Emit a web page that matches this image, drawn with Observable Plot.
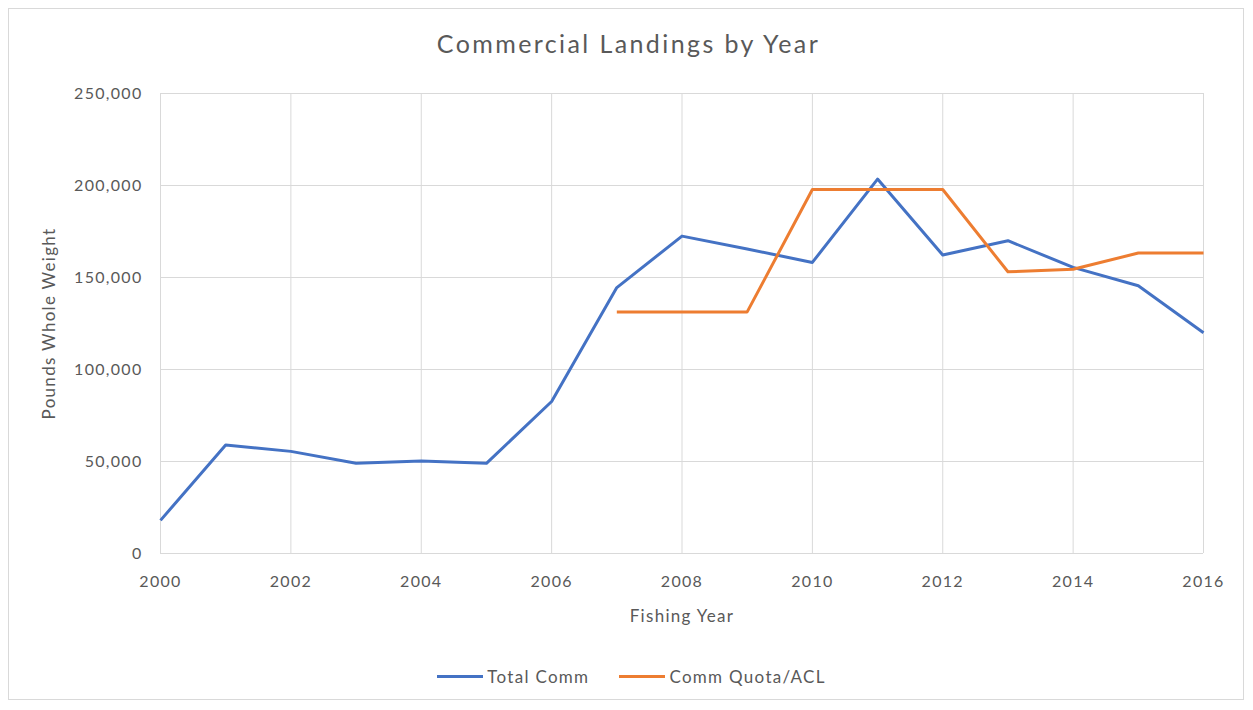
<!DOCTYPE html>
<html>
<head>
<meta charset="utf-8">
<script src="https://cdn.jsdelivr.net/npm/d3@7"></script>
<script src="https://cdn.jsdelivr.net/npm/@observablehq/plot@0.6"></script>
<style>
  body { margin: 0; background: #fff; font-family: Lato, "Open Sans", sans-serif; }
  #frame { position: absolute; left: 8px; top: 8px; width: 1236px; height: 692px; border: 1px solid #d9d9d9; box-sizing: border-box; }
  #wrap { position: absolute; left: 0; top: 0; width: 1253px; }
  #title { height: 80px; box-sizing: border-box; padding-top: 28px; padding-left: 4px; text-align: center; font-size: 25px; letter-spacing: 2.4px; color: #595959; }
  #legend { display: flex; justify-content: center; gap: 30px; font-size: 17px; letter-spacing: 1.3px; color: #595959; margin-top: 26px; margin-left: 10px; }
  .item { display: flex; align-items: center; gap: 4px; }
  .sw { width: 46px; height: 3px; }
  svg text { letter-spacing: 1.3px; }
</style>
</head>
<body>
<div id="frame"></div>
<div id="wrap">
  <div id="title">Commercial Landings by Year</div>
  <div id="chart"></div>
  <div id="legend"></div>
</div>
<script>
const years = [2000,2001,2002,2003,2004,2005,2006,2007,2008,2009,2010,2011,2012,2013,2014,2015,2016];
const totalComm = [18000,59000,55500,49000,50300,49000,82600,144500,172500,165500,158200,203500,162200,170000,155500,145500,120000];
const quotaYears = [2007,2008,2009,2010,2011,2012,2013,2014,2015,2016];
const quotaACL = [131300,131300,131300,197800,197800,197800,153100,154500,163300,163300];
const seriesNames = ["Total Comm", "Comm Quota/ACL"];
const seriesColors = ["#4472C4", "#ED7D31"];
const xTicks = [2000,2002,2004,2006,2008,2010,2012,2014,2016];
const yTicks = [0,50000,100000,150000,200000,250000];

const data = [
  ...years.map((y, i) => ({year: y, value: totalComm[i], series: seriesNames[0]})),
  ...quotaYears.map((y, i) => ({year: y, value: quotaACL[i], series: seriesNames[1]}))
];

const chart = Plot.plot({
  width: 1253,
  height: 560,
  marginLeft: 160,
  marginRight: 50,
  marginTop: 13,
  marginBottom: 87,
  style: { fontFamily: "Lato, 'Open Sans', sans-serif", fontSize: "16px", color: "#595959", background: "transparent" },
  x: { domain: [2000, 2016] },
  y: { domain: [0, 250000] },
  color: { domain: seriesNames, range: seriesColors },
  marks: [
    Plot.gridX(xTicks, { stroke: "#d9d9d9", strokeOpacity: 1, strokeWidth: 1 }),
    Plot.gridY(yTicks, { stroke: "#d9d9d9", strokeOpacity: 1, strokeWidth: 1 }),
    Plot.axisX(xTicks, { tickFormat: "d", tickSize: 0, tickPadding: 22, fontSize: 16, label: "Fishing Year", labelAnchor: "center", labelArrow: "none", labelOffset: 68 }),
    Plot.axisY(yTicks, { tickFormat: d => d === 0 ? "0" : d3.format(",")(d), tickSize: 0, tickPadding: 18, fontSize: 16, label: "Pounds Whole Weight", labelAnchor: "center", labelArrow: "none", labelOffset: 118 }),
    Plot.line(data, { x: "year", y: "value", z: "series", stroke: "series", strokeWidth: 3, strokeLinejoin: "round", strokeLinecap: "butt" })
  ]
});
document.getElementById("chart").appendChild(chart);
chart.querySelectorAll("[aria-label='x-axis label'] text, [aria-label='y-axis label'] text").forEach(t => t.setAttribute("font-size", "17px"));

const legend = document.getElementById("legend");
seriesNames.forEach((name, i) => {
  const item = document.createElement("div");
  item.className = "item";
  const sw = document.createElement("div");
  sw.className = "sw";
  sw.style.background = seriesColors[i];
  const lab = document.createElement("span");
  lab.textContent = name;
  item.appendChild(sw);
  item.appendChild(lab);
  legend.appendChild(item);
});
</script>
</body>
</html>
